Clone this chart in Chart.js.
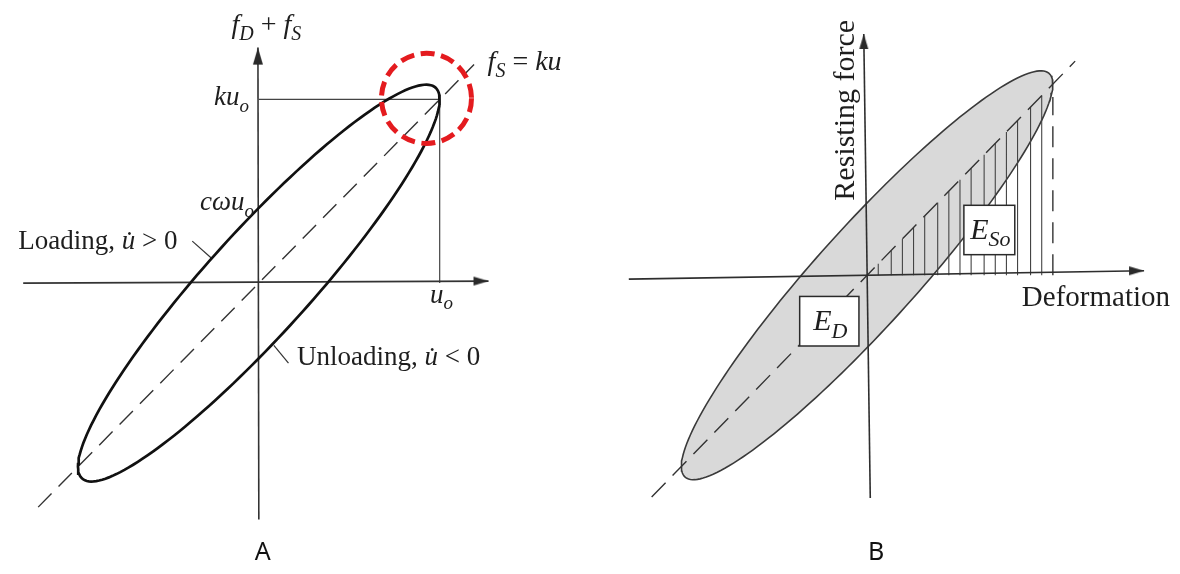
<!DOCTYPE html>
<html>
<head>
<meta charset="utf-8">
<script src="https://cdn.jsdelivr.net/npm/chart.js@4.4.1/dist/chart.umd.min.js"></script>
<style>
  html, body { margin: 0; padding: 0; background: #fff; }
  #wrap { position: relative; width: 1180px; height: 574px; overflow: hidden; }
  .panel { position: absolute; top: 0; width: 590px; height: 574px; }
</style>
</head>
<body>
<div id="wrap">
  <div class="panel" style="left:0"><canvas id="chartA" width="590" height="574"></canvas></div>
  <div class="panel" style="left:590px"><canvas id="chartB" width="590" height="574"></canvas></div>
</div>
<script>
// loop parameters, displacement measured in units of u_o: [u_o, k*u_o, c*w*u_o]
const loopA = [1.0, 1.016, 0.416];
const loopB = [1.0, 1.03, 0.39];

// u range covered by the dashed spring line fS = k u
const springA = [-1.22, 1.19];
const springB = [-1.16, 1.12];

// axis end points [u, f] (tail, head)
const axisAx = [[-1.303, 0.0], [1.27, 0.011]];
const axisAy = [[0.0, -1.308], [-0.005, 1.303]];
const axisBx = [[-1.283, -0.021], [1.491, 0.024]];
const axisBy = [[0.017, -1.2], [-0.018, 1.3]];

// leader lines for the loading / unloading branch labels
const leaderLoading = [[-0.368, 0.232], [-0.263, 0.139]];
const leaderUnloading = [[0.083, -0.344], [0.164, -0.443]];

// hatching under fS = k u (strain energy E_So), u positions
const hatchB = [0.06, 0.13, 0.19, 0.25, 0.31, 0.38, 0.44, 0.5, 0.56, 0.63, 0.69, 0.75, 0.81, 0.88, 0.94];
// dashed drop line at u_o, f range
const dropB = [0.0, 0.96];

// phase angle around one cycle, degrees
const phaseDeg = Array.from({ length: 181 }, (_, i) => i * 2);

function loopPoints([u0, ku0, cwu0]) {
  // u = u0 sin(wt), fD + fS = k u + c du/dt
  return phaseDeg.map(d => {
    const t = d * Math.PI / 180;
    return { x: u0 * Math.sin(t), y: ku0 * Math.sin(t) + cwu0 * Math.cos(t) };
  });
}

const pts = arr => arr.map(([x, y]) => ({ x, y }));

function frame(ox, oy, s, w, h) {
  return { x: { min: -ox / s, max: (w - ox) / s }, y: { min: -(h - oy) / s, max: oy / s } };
}

function arrowHead(len, wid, color) {
  const c = document.createElement('canvas');
  c.width = Math.ceil(wid) + 2;
  c.height = Math.ceil(len) * 2 + 2;
  const g = c.getContext('2d');
  const cx = c.width / 2, cy = c.height / 2;
  g.fillStyle = color;
  g.beginPath();
  g.moveTo(cx, cy);
  g.lineTo(cx + wid / 2, cy + len);
  g.lineTo(cx - wid / 2, cy + len);
  g.closePath();
  g.fill();
  return c;
}

function line(data, extra) {
  return Object.assign({
    data, showLine: true, pointRadius: 0, borderColor: '#2b2b2b',
    borderWidth: 1.4, fill: false, tension: 0
  }, extra);
}

function axis(p, rot, head, color, order) {
  return line(pts(p), {
    borderColor: color, borderWidth: 1.6, order,
    pointRadius: [0, 5], pointStyle: ['circle', head], pointRotation: [0, rot]
  });
}

const SERIF = '"Liberation Serif", "Times New Roman", serif';

function runFont(r, size) {
  return (r.i ? 'italic ' : '') + (r.sub ? Math.round(size * 0.72) : size) + 'px ' + SERIF;
}

function drawRuns(ctx, runs, x, y, size, align) {
  let w = 0;
  for (const r of runs) { ctx.font = runFont(r, size); w += ctx.measureText(r.t).width; }
  let cx = align === 'right' ? x - w : align === 'center' ? x - w / 2 : x;
  ctx.textAlign = 'left';
  ctx.textBaseline = 'alphabetic';
  for (const r of runs) {
    ctx.font = runFont(r, size);
    ctx.fillText(r.t, cx, y + (r.sub ? size * 0.25 : 0));
    cx += ctx.measureText(r.t).width;
  }
}

// labels, boxes and marker circle anchored in data coordinates
const notes = {
  id: 'notes',
  afterDatasetsDraw(chart, args, opts) {
    const ctx = chart.ctx, sx = chart.scales.x, sy = chart.scales.y;
    const X = v => sx.getPixelForValue(v), Y = v => sy.getPixelForValue(v);
    ctx.save();
    (opts.boxes || []).forEach(b => {
      const x0 = X(b.box[0]), y0 = Y(b.box[1]), x1 = X(b.box[2]), y1 = Y(b.box[3]);
      ctx.fillStyle = '#fff';
      ctx.fillRect(x0, y0, x1 - x0, y1 - y0);
      ctx.strokeStyle = '#2a2a2a';
      ctx.lineWidth = 1.5;
      ctx.strokeRect(x0, y0, x1 - x0, y1 - y0);
      ctx.fillStyle = '#1e1e1e';
      drawRuns(ctx, b.runs, (x0 + x1) / 2 + 1, (y0 + y1) / 2 + b.size * 0.3, b.size, 'center');
    });
    if (opts.circle) {
      const c = opts.circle;
      ctx.beginPath();
      ctx.strokeStyle = '#e41b1f';
      ctx.lineWidth = 5;
      ctx.setLineDash([14, 6.6]);
      ctx.arc(X(c.at[0]), Y(c.at[1]), X(c.r) - X(0), 0, Math.PI * 2);
      ctx.stroke();
      ctx.setLineDash([]);
    }
    (opts.labels || []).forEach(l => {
      ctx.fillStyle = l.color || '#1e1e1e';
      if (l.sans) {
        ctx.font = l.size + 'px "Noto Sans", "Open Sans", sans-serif';
        ctx.textAlign = 'center';
        ctx.textBaseline = 'alphabetic';
        ctx.fillText(l.runs[0].t, X(l.at[0]), Y(l.at[1]));
      } else if (l.rotate) {
        ctx.save();
        ctx.translate(X(l.at[0]), Y(l.at[1]));
        ctx.rotate(-Math.PI / 2);
        drawRuns(ctx, l.runs, 0, 0, l.size, 'center');
        ctx.restore();
      } else {
        drawRuns(ctx, l.runs, X(l.at[0]), Y(l.at[1]), l.size, l.align);
      }
    });
    ctx.restore();
  }
};

function baseOptions(fr, notesOpts) {
  return {
    responsive: false,
    animation: false,
    events: [],
    layout: { padding: 0 },
    scales: {
      x: { type: 'linear', display: false, min: fr.x.min, max: fr.x.max },
      y: { type: 'linear', display: false, min: fr.y.min, max: fr.y.max }
    },
    plugins: { legend: { display: false }, tooltip: { enabled: false }, notes: notesOpts }
  };
}

// ---------- panel A ----------
const headA = arrowHead(17, 10, '#2a2a2a');
const headAx = arrowHead(15, 9, '#2a2a2a');
const [uA, kuA] = loopA;
const kA = kuA / uA;

new Chart(document.getElementById('chartA'), {
  type: 'scatter',
  plugins: [notes],
  data: {
    datasets: [
      line(loopPoints(loopA), { borderColor: '#111', borderWidth: 2.7, order: 1 }),
      line(pts([[springA[0], kA * springA[0]], [springA[1], kA * springA[1]]]),
        { borderColor: '#333', borderWidth: 1.4, borderDash: [19, 10], order: 3 }),
      line(pts([[0, kuA], [uA, kuA], [uA, 0]]), { borderColor: '#444', borderWidth: 1.2, order: 4 }),
      axis(axisAx, 90, headAx, '#333', 2),
      axis(axisAy, 0, headA, '#333', 2),
      line(pts(leaderLoading), { borderColor: '#333', borderWidth: 1.2, order: 5 }),
      line(pts(leaderUnloading), { borderColor: '#333', borderWidth: 1.2, order: 5 })
    ]
  },
  options: baseOptions(frame(258, 283, 185, 590, 574), {
    circle: { at: [0.927, 1.022], r: 0.249 },
    labels: [
      { at: [-0.151, 1.384], size: 28, align: 'left',
        runs: [{ t: 'f', i: 1 }, { t: 'D', i: 1, sub: 1 }, { t: ' + ' }, { t: 'f', i: 1 }, { t: 'S', i: 1, sub: 1 }] },
      { at: [-0.054, 0.984], size: 27, align: 'right',
        runs: [{ t: 'ku', i: 1 }, { t: 'o', i: 1, sub: 1 }] },
      { at: [-0.027, 0.405], size: 27, align: 'right',
        runs: [{ t: 'c\u03c9u', i: 1 }, { t: 'o', i: 1, sub: 1 }] },
      { at: [-1.33, 0.189], size: 27, align: 'left',
        runs: [{ t: 'Loading, ' }, { t: 'u\u0307', i: 1 }, { t: ' > 0' }] },
      { at: [0.946, -0.108], size: 27, align: 'left',
        runs: [{ t: 'u', i: 1 }, { t: 'o', i: 1, sub: 1 }] },
      { at: [0.211, -0.454], size: 27, align: 'left',
        runs: [{ t: 'Unloading, ' }, { t: 'u\u0307', i: 1 }, { t: ' < 0' }] },
      { at: [1.265, 1.178], size: 28, align: 'left',
        runs: [{ t: 'f', i: 1 }, { t: 'S', i: 1, sub: 1 }, { t: ' = ' }, { t: 'ku', i: 1 }] },
      { at: [0.022, -1.53], size: 25, sans: true, color: '#111', runs: [{ t: 'A' }] }
    ]
  })
});

// ---------- panel B ----------
const headB = arrowHead(15, 9, '#2a2a2a');
const [uB, kuB] = loopB;
const kB = kuB / uB;
const hatchData = [];
hatchB.forEach(u => { hatchData.push({ x: u, y: 0 }, { x: u, y: kB * u }, { x: u, y: null }); });

new Chart(document.getElementById('chartB'), {
  type: 'scatter',
  plugins: [notes],
  data: {
    datasets: [
      line(loopPoints(loopB), { borderColor: '#3a3a3a', borderWidth: 1.6, backgroundColor: '#d9d9d9', fill: 'shape', order: 10 }),
      line(hatchData, { borderColor: '#444', borderWidth: 1.1, spanGaps: false, order: 6 }),
      line(pts([[uB, dropB[0]], [uB, dropB[1]]]), { borderColor: '#333', borderWidth: 1.4, borderDash: [21, 11], order: 5 }),
      line(pts([[springB[0], kB * springB[0]], [springB[1], kB * springB[1]]]),
        { borderColor: '#333', borderWidth: 1.4, borderDash: [20, 10], order: 4 }),
      axis(axisBx, 90, headB, '#2e2e2e', 2),
      axis(axisBy, 0, headB, '#2e2e2e', 2)
    ]
  },
  options: baseOptions(frame(276.7, 275, 190, 590, 574), {
    boxes: [
      { box: [-0.363, -0.114, -0.044, -0.381], size: 30,
        runs: [{ t: 'E', i: 1 }, { t: 'D', i: 1, sub: 1 }] },
      { box: [0.521, 0.377, 0.795, 0.111], size: 30,
        runs: [{ t: 'E', i: 1 }, { t: 'So', i: 1, sub: 1 }] }
    ],
    labels: [
      { at: [-0.072, 0.889], size: 30, rotate: true, runs: [{ t: 'Resisting force' }] },
      { at: [0.833, -0.163], size: 29, align: 'left', runs: [{ t: 'Deformation' }] },
      { at: [0.049, -1.532], size: 25, sans: true, color: '#111', runs: [{ t: 'B' }] }
    ]
  })
});
</script>
</body>
</html>
